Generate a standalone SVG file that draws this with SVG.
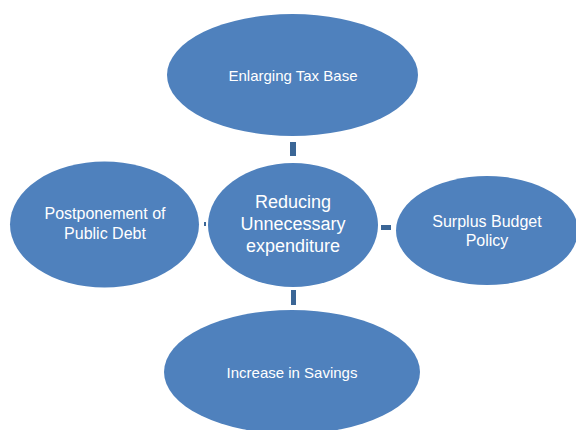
<svg xmlns="http://www.w3.org/2000/svg" width="576" height="430" viewBox="0 0 576 430">
<style>
.node{fill:#4F81BD;}
.lbl{fill:#FFFFFF;font-family:"Liberation Sans",Arial,sans-serif;text-anchor:middle;}
.conn{fill:#3B6696;}
</style>
<rect width="576" height="430" fill="#FFFFFF"/>
<g id="connectors">
<rect class="conn" x="290" y="142" width="6" height="14"/>
<rect class="conn" x="381" y="225" width="10" height="5"/>
<rect class="conn" x="204" y="222" width="2" height="4"/>
<rect class="conn" x="291" y="290" width="5" height="15"/>
</g>
<g id="top">
<ellipse class="node" cx="292.5" cy="75" rx="125.5" ry="61"/>
<text class="lbl" x="293" y="81" font-size="15">Enlarging Tax Base</text>
</g>
<g id="center">
<ellipse class="node" cx="293" cy="225" rx="85" ry="62"/>
<text class="lbl" x="293" y="208" font-size="18">Reducing</text>
<text class="lbl" x="293" y="230" font-size="18">Unnecessary</text>
<text class="lbl" x="293" y="252" font-size="18">expenditure</text>
</g>
<g id="left">
<ellipse class="node" cx="104.5" cy="224.5" rx="94.5" ry="63"/>
<text class="lbl" x="105" y="219" font-size="16">Postponement of</text>
<text class="lbl" x="105" y="239" font-size="16">Public Debt</text>
</g>
<g id="right">
<ellipse class="node" cx="487" cy="230.5" rx="91" ry="54.5"/>
<text class="lbl" x="487" y="227" font-size="16">Surplus Budget</text>
<text class="lbl" x="487" y="246" font-size="16">Policy</text>
</g>
<g id="bottom">
<ellipse class="node" cx="292" cy="372" rx="128" ry="62"/>
<text class="lbl" x="292" y="378" font-size="15">Increase in Savings</text>
</g>
</svg>
